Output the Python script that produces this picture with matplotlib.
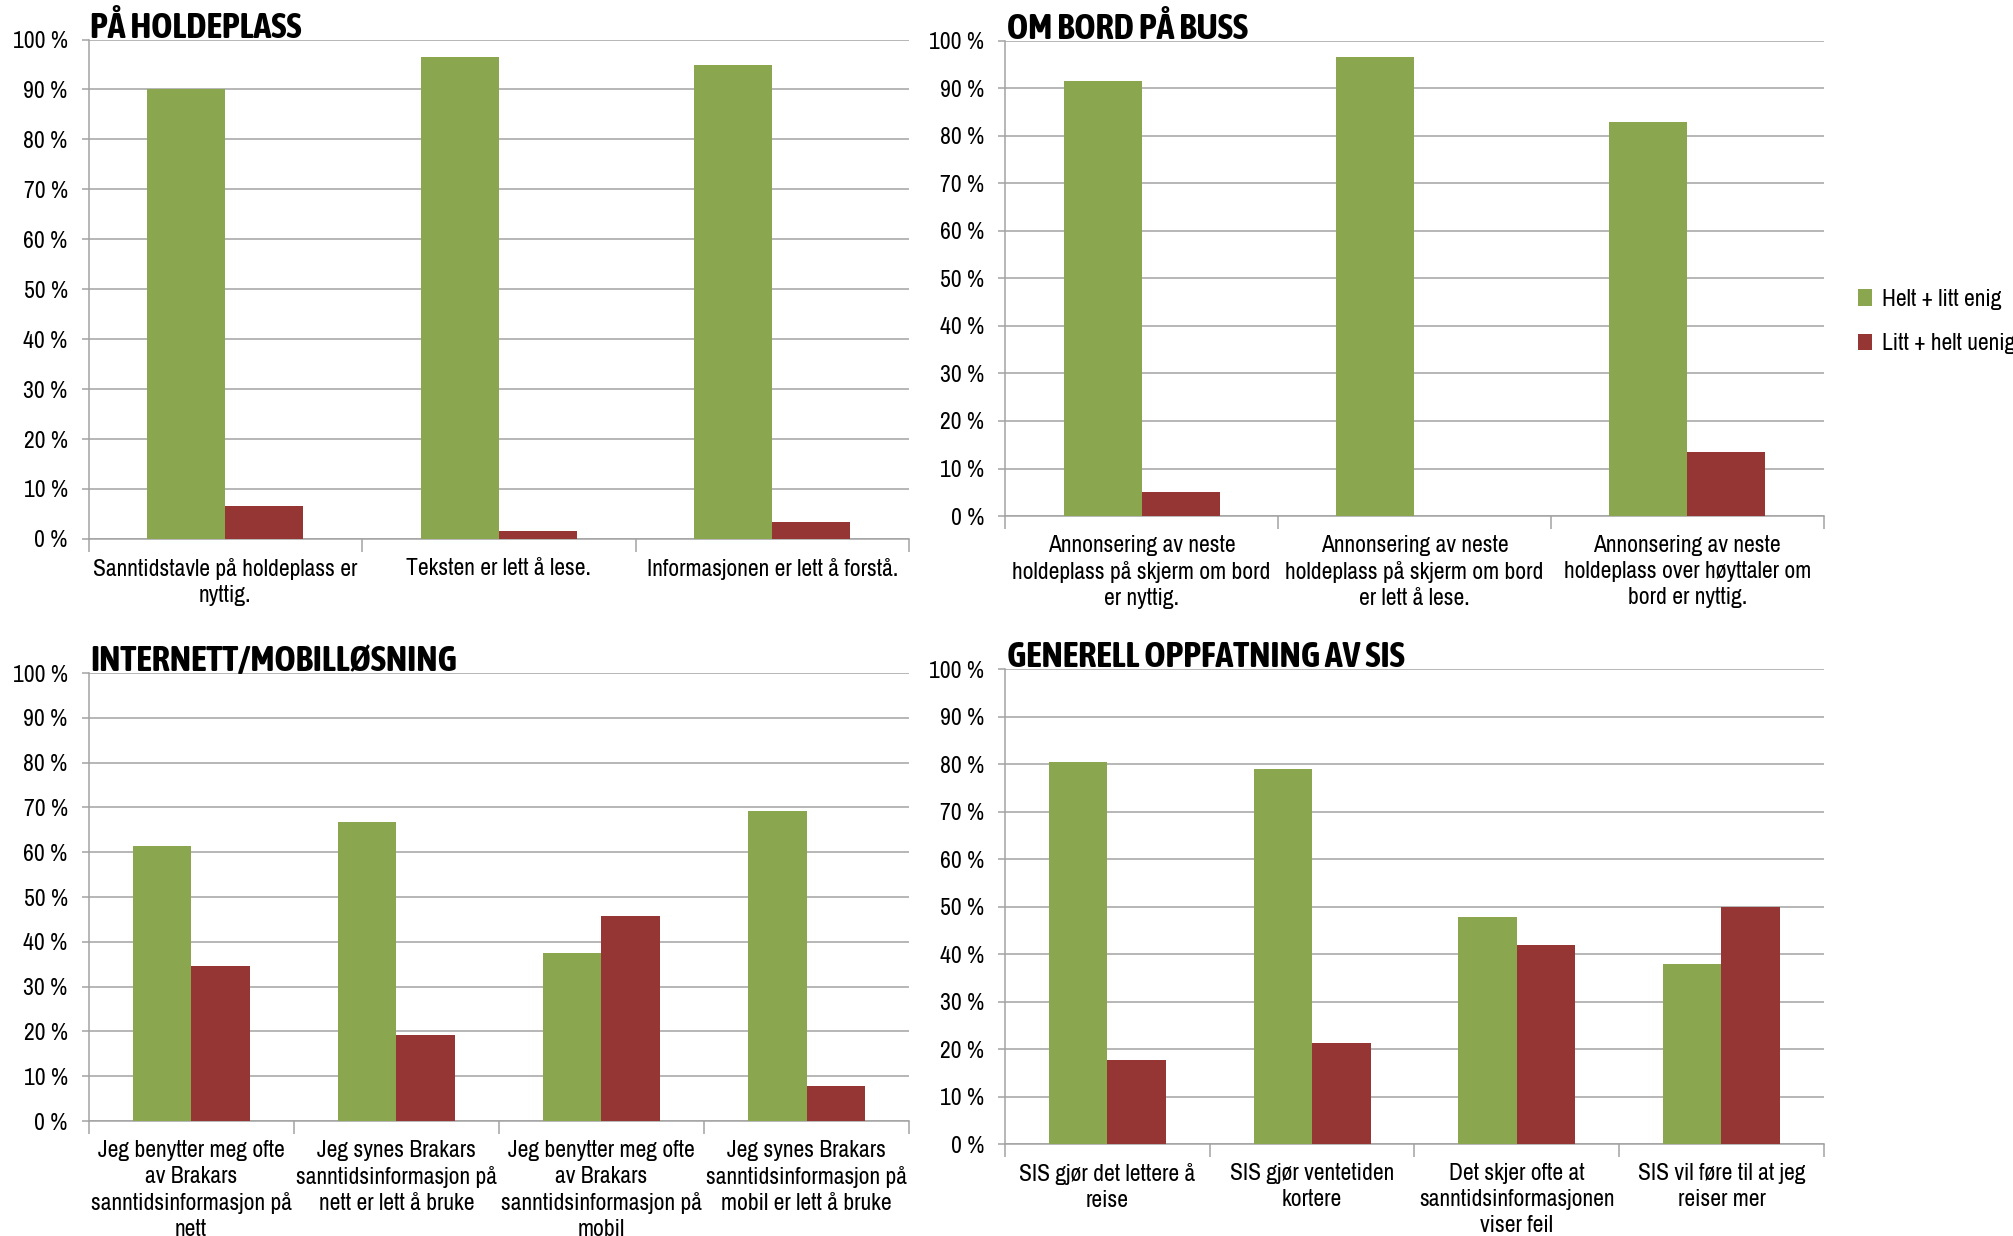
import numpy as np
import matplotlib
matplotlib.use("Agg")
import matplotlib.pyplot as plt
from matplotlib.ticker import FixedLocator

plt.rcParams['font.family'] = ['Archivo Narrow', 'Carlito', 'DejaVu Sans']
TITLE_FONT = ['Asap Condensed', 'Carlito', 'DejaVu Sans']

# --- data (percent) ---
series_names = ["Helt + litt enig", "Litt + helt uenig"]

titles = ["PÅ HOLDEPLASS", "OM BORD PÅ BUSS",
          "INTERNETT/MOBILLØSNING", "GENERELL OPPFATNING AV SIS"]

cats_holdeplass = ["Sanntidstavle på holdeplass er\nnyttig.",
                   "Teksten er lett å lese.",
                   "Informasjonen er lett å forstå."]
enig_holdeplass = [90.0, 96.5, 95.0]
uenig_holdeplass = [6.5, 1.5, 3.3]

cats_buss = ["Annonsering av neste\nholdeplass på skjerm om bord\ner nyttig.",
             "Annonsering av neste\nholdeplass på skjerm om bord\ner lett å lese.",
             "Annonsering av neste\nholdeplass over høyttaler om\nbord er nyttig."]
enig_buss = [91.5, 96.5, 83.0]
uenig_buss = [5.0, 0.0, 13.5]

cats_nett = ["Jeg benytter meg ofte\nav Brakars\nsanntidsinformasjon på\nnett",
             "Jeg synes Brakars\nsanntidsinformasjon på\nnett er lett å bruke",
             "Jeg benytter meg ofte\nav Brakars\nsanntidsinformasjon på\nmobil",
             "Jeg synes Brakars\nsanntidsinformasjon på\nmobil er lett å bruke"]
enig_nett = [61.5, 66.7, 37.5, 69.2]
uenig_nett = [34.7, 19.2, 45.8, 7.8]

cats_sis = ["SIS gjør det lettere å\nreise",
            "SIS gjør ventetiden\nkortere",
            "Det skjer ofte at\nsanntidsinformasjonen\nviser feil",
            "SIS vil føre til at jeg\nreiser mer"]
enig_sis = [80.4, 79.0, 47.8, 38.0]
uenig_sis = [17.7, 21.2, 42.0, 50.0]

GREEN = '#8AA64E'
RED = '#963634'
GRID = '#A3A3A3'

fig = plt.figure(figsize=(20.13, 12.36), dpi=100)

# axes rectangles [left, bottom, width, height]
rects = [
    [0.044, 0.564, 0.4076, 0.404],
    [0.4993, 0.5825, 0.4067, 0.3845],
    [0.044, 0.093, 0.4076, 0.3625],
    [0.4993, 0.0744, 0.4067, 0.3843],
]
panels = [
    (cats_holdeplass, enig_holdeplass, uenig_holdeplass),
    (cats_buss, enig_buss, uenig_buss),
    (cats_nett, enig_nett, uenig_nett),
    (cats_sis, enig_sis, uenig_sis),
]

w = 1 / 3.5
handles = None
for rect, title, (cats, enig, uenig) in zip(rects, titles, panels):
    ax = fig.add_axes(rect)
    n = len(cats)
    x = np.arange(n)
    b1 = ax.bar(x - w / 2, enig, width=w, color=GREEN, zorder=3, label=series_names[0])
    b2 = ax.bar(x + w / 2, uenig, width=w, color=RED, zorder=3, label=series_names[1])
    handles = [b1, b2]

    ax.set_xlim(-0.5, n - 0.5)
    ax.set_ylim(0, 100)
    ax.set_yticks(np.arange(0, 101, 10))
    ax.set_yticklabels([f"{v} %" for v in range(0, 101, 10)], fontsize=17)
    ax.yaxis.grid(True, color=GRID, linewidth=1.1, zorder=0)
    ax.set_axisbelow(True)

    ax.set_xticks(x)
    ax.set_xticklabels(cats, fontsize=17, linespacing=1.27, va='top')
    ax.xaxis.set_minor_locator(FixedLocator(np.arange(-0.5, n, 1.0)))
    ax.tick_params(axis='x', which='major', length=0, pad=14)
    ax.tick_params(axis='x', which='minor', length=9, color=GRID, width=1.1)
    ax.tick_params(axis='y', length=5, color=GRID, width=1.1, pad=10)

    for s in ['top', 'right']:
        ax.spines[s].set_visible(False)
    for s in ['left', 'bottom']:
        ax.spines[s].set_color(GRID)
        ax.spines[s].set_linewidth(1.1)

    ax.text(0.002, 1.004, title, transform=ax.transAxes, ha='left', va='baseline',
            fontsize=26, fontweight='bold', family=TITLE_FONT)

fig.legend(handles, series_names, loc='center left', bbox_to_anchor=(0.923, 0.74),
           frameon=False, fontsize=17, handlelength=0.6, handleheight=0.7,
           handletextpad=0.4, labelspacing=1.0, borderpad=0, borderaxespad=0)

fig.savefig("out.png", dpi=100)
